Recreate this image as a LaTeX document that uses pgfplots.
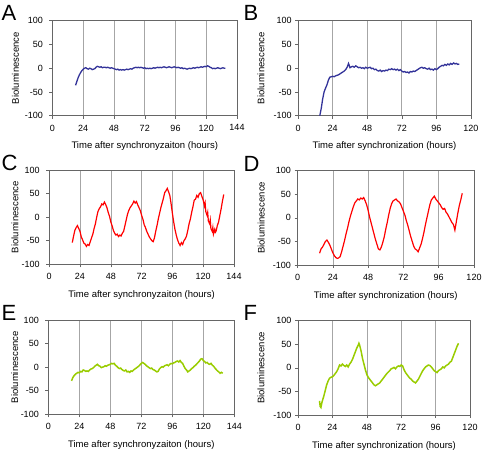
\documentclass[border=0pt]{standalone}
\usepackage{fontspec}
\setmainfont{Liberation Sans}
\usepackage{pgfplots}
\pgfplotsset{compat=1.18}
\definecolor{cblue}{HTML}{333399}
\definecolor{cred}{HTML}{FF0000}
\definecolor{cgreen}{HTML}{99CC00}
\pgfplotsset{
  panel/.style={
    scale only axis, anchor=north west,
    ymin=-100, ymax=100, ytick={-100,-50,0,50,100},
    tick align=outside, major tick length=3pt, tick pos=left,
    tick style={black!60, line width=0.5pt},
    xmajorgrids, grid style={black!35, line width=0.6pt},
    axis line style={black!60, line width=0.6pt},
    ticklabel style={font=\fontsize{9}{10}\selectfont},
    xticklabel style={yshift=-2.5pt},
    /pgf/number format/assume math mode=true,
    label style={font=\fontsize{9.5}{11}\selectfont},
    ylabel={Bioluminescence},
    xlabel style={at={(axis description cs:0.5,-0.35)}, anchor=base},
  },
  p144/.style={xmin=0, xmax=144, xtick={0,24,...,144}, xlabel={Time after synchronyzaiton (hours)}, yticklabel style={xshift=-3pt}},
  p120/.style={xmin=0, xmax=120, xtick={0,24,...,120}, xlabel={Time after synchronization (hours)}},
}
\begin{document}
\begin{tikzpicture}
\useasboundingbox (0pt,0pt) rectangle (484pt,-455pt);
\tikzset{lett/.style={anchor=base west, inner sep=0pt, font=\fontsize{22}{22}\selectfont}}
\node[lett] at (1.5pt,-20pt) {A};
\node[lett] at (243.5pt,-20pt) {B};
\node[lett] at (1.5pt,-170pt) {C};
\node[lett] at (243.5pt,-171pt) {D};
\node[lett] at (1.5pt,-320pt) {E};
\node[lett] at (243.5pt,-320pt) {F};

% A
\begin{axis}[panel, p144, at={(52.5pt,-20.7pt)}, width=184.5pt, height=95pt,
  ylabel style={at={(axis description cs:-0.20,0.5)}, anchor=center}]
\addplot[cblue, line width=1.3pt] coordinates {
(18,-36)(19,-28)(20,-20)(21,-14)(22,-9)(23,-5)(24,-2)(25,0)(26,1)(27,-1)(28,-2)(29,0)(30,-1)(31,-3)(32,-2)(33,-1)(34,2)(35,4)(36,3)(37,2)(38,3)(39,1)(40,2)(41,2)(42,1)(43,2)(44,1)(45,0)(46,1)(47,0)(48,-1)(49,-2)(50,-3)(51,-2)(52,-4)(53,-3)(54,-4)(55,-3)(56,-4)(57,-3)(58,-2)(59,-3)(60,-2)(61,-1)(62,-2)(63,0)(64,1)(65,2)(66,1)(67,2)(68,1)(69,2)(70,1)(71,0)(72,1)(73,-1)(74,0)(75,-1)(76,0)(77,-1)(78,0)(79,1)(80,0)(81,1)(82,2)(83,1)(84,2)(85,1)(86,2)(87,3)(88,2)(89,1)(90,2)(91,3)(92,2)(93,1)(94,2)(95,3)(96,2)(97,1)(98,2)(99,1)(100,0)(101,1)(102,-1)(103,0)(104,-1)(105,-2)(106,-1)(107,0)(108,-1)(109,0)(110,1)(111,0)(112,1)(113,2)(114,1)(115,2)(116,3)(117,2)(118,3)(119,4)(120,3)(121,5)(122,4)(123,2)(124,1)(125,-1)(126,0)(127,-1)(128,0)(129,1)(130,0)(131,-1)(132,0)(133,1)(134,0)(135,0)
};
\end{axis}

% B
\begin{axis}[panel, p120, at={(298.2pt,-20.7pt)}, width=172.6pt, height=95pt,
  ylabel style={at={(axis description cs:-0.215,0.5)}, anchor=center}]
\addplot[cblue, line width=1.3pt] coordinates {
(15,-100)(16,-85)(17,-65)(18,-50)(19,-42)(20,-35)(21,-25)(22,-19)(23,-18)(24,-17)(25,-18)(26,-16)(27,-15)(28,-14)(29,-12)(30,-10)(31,-8)(32,-6)(33,-3)(34,2)(35,10)(36,1)(37,3)(38,4)(39,2)(40,5)(41,3)(42,1)(43,2)(44,0)(45,1)(46,-1)(47,2)(48,0)(49,1)(50,2)(51,-1)(52,0)(53,-3)(54,-2)(55,-5)(56,-6)(57,-4)(58,-7)(59,-5)(60,-6)(61,-4)(62,-5)(63,-2)(64,-3)(65,-1)(66,-3)(67,-2)(68,-4)(69,-2)(70,-5)(71,-3)(72,-6)(73,-8)(74,-7)(75,-9)(76,-8)(77,-10)(78,-7)(79,-8)(80,-6)(81,-7)(82,-5)(83,-3)(84,-1)(85,1)(86,2)(87,0)(88,1)(89,-1)(90,-2)(91,0)(92,-3)(93,-2)(94,-4)(95,-1)(96,-3)(97,-1)(98,2)(99,4)(100,6)(101,5)(102,8)(103,6)(104,9)(105,7)(106,10)(107,8)(108,11)(109,9)(110,10)(111,8)(112,9)
};
\end{axis}

% C
\begin{axis}[panel, p144, at={(49.2pt,-170pt)}, width=184.8pt, height=94.3pt,
  ylabel style={at={(axis description cs:-0.185,0.5)}, anchor=center}]
\addplot[cred, line width=1.2pt] coordinates {
(18,-54)(19,-40)(20,-28)(21,-22)(22,-18)(23,-24)(24,-30)(25,-42)(26,-48)(27,-55)(28,-57)(29,-62)(30,-58)(31,-60)(32,-52)(33,-44)(34,-36)(35,-24)(36,-14)(37,0)(38,12)(39,18)(40,22)(41,28)(42,26)(43,32)(44,27)(45,20)(46,10)(47,2)(48,-10)(49,-18)(50,-28)(51,-34)(52,-38)(53,-36)(54,-41)(55,-38)(56,-40)(57,-34)(58,-30)(59,-18)(60,-6)(61,6)(62,14)(63,20)(64,24)(65,28)(66,34)(67,30)(68,33)(69,26)(70,20)(71,14)(72,4)(73,-4)(74,-16)(75,-22)(76,-30)(77,-36)(78,-42)(79,-46)(80,-50)(81,-52)(82,-44)(83,-30)(84,-18)(85,-4)(86,8)(87,20)(88,30)(89,40)(90,52)(91,56)(92,61)(93,54)(94,46)(95,28)(96,8)(97,-10)(98,-26)(99,-38)(100,-48)(101,-55)(102,-60)(103,-54)(104,-58)(105,-50)(106,-46)(107,-40)(108,-28)(109,-14)(110,-4)(111,10)(112,22)(113,36)(114,38)(115,46)(116,42)(117,50)(118,52)(119,44)(120,36)(121,24)(121.5,30)(122,12)(123,4)(123.5,10)(124,-8)(125,-14)(125.5,-6)(126,-24)(127,-30)(127.5,-22)(128,-36)(129,-26)(129.5,-32)(130,-30)(131,-18)(132,-10)(133,4)(134,18)(135,34)(136,48)
};
\end{axis}

% D
\begin{axis}[panel, p120, at={(297.5pt,-170.7pt)}, width=176.5pt, height=94.3pt,
  ylabel style={at={(axis description cs:-0.205,0.5)}, anchor=center}]
\addplot[cred, line width=1.2pt] coordinates {
(15,-75)(16,-66)(17,-62)(18,-56)(19,-50)(20,-47)(21,-52)(22,-58)(23,-66)(24,-74)(25,-80)(26,-84)(27,-86)(28,-85)(29,-82)(30,-72)(31,-60)(32,-48)(33,-34)(34,-22)(35,-8)(36,4)(37,14)(38,24)(39,32)(40,36)(41,40)(42,38)(43,42)(44,40)(45,43)(46,36)(47,28)(48,16)(49,2)(50,-10)(51,-22)(52,-34)(53,-46)(54,-56)(55,-66)(56,-68)(57,-62)(58,-52)(59,-40)(60,-24)(61,-10)(62,6)(63,20)(64,30)(65,36)(66,38)(67,40)(68,36)(69,34)(70,30)(71,22)(72,14)(73,6)(74,-6)(75,-16)(76,-28)(77,-40)(78,-50)(79,-60)(80,-66)(81,-68)(82,-72)(83,-64)(84,-56)(85,-44)(86,-30)(87,-14)(88,0)(89,14)(90,28)(91,38)(92,42)(93,46)(94,40)(95,36)(96,32)(97,28)(98,22)(99,18)(100,20)(101,12)(102,8)(103,2)(104,-4)(105,-10)(106,-14)(107,-26)(108,-8)(109,10)(110,26)(111,38)(112,52)
};
\end{axis}

% E
\begin{axis}[panel, p144, at={(48.3pt,-320pt)}, width=186pt, height=94.3pt,
  ylabel style={at={(axis description cs:-0.18,0.5)}, anchor=center}]
\addplot[cgreen, line width=1.5pt] coordinates {
(18,-29)(19,-22)(20,-18)(21,-15)(22,-13)(23,-11)(24,-12)(25,-9)(26,-10)(27,-6)(28,-7)(29,-9)(30,-8)(31,-9)(32,-6)(33,-4)(34,-3)(35,-1)(36,2)(37,4)(38,6)(39,3)(40,2)(41,-1)(42,0)(43,1)(44,3)(45,2)(46,4)(47,5)(48,6)(49,8)(50,7)(51,8)(52,4)(53,2)(54,-1)(55,-3)(56,-2)(57,-5)(58,-7)(59,-8)(60,-6)(61,-10)(62,-9)(63,-11)(64,-8)(65,-9)(66,-6)(67,-4)(68,-2)(69,0)(70,2)(71,5)(72,8)(73,10)(74,8)(75,6)(76,3)(77,1)(78,-1)(79,-3)(80,-2)(81,-5)(82,-6)(83,-8)(84,-10)(85,-9)(86,-4)(87,-1)(88,1)(89,0)(90,3)(91,4)(92,5)(93,3)(94,6)(95,8)(96,7)(97,9)(98,10)(99,12)(100,13)(101,11)(102,14)(103,10)(104,8)(105,2)(106,-3)(107,-6)(108,-10)(109,-8)(110,-6)(111,-3)(112,-1)(113,2)(114,4)(115,7)(116,10)(117,13)(118,17)(119,18)(120,14)(121,12)(122,9)(123,10)(124,7)(125,6)(126,8)(127,4)(128,2)(129,-2)(130,-5)(131,-8)(132,-10)(133,-13)(134,-11)(135,-13)
};
\end{axis}

% F
\begin{axis}[panel, p120, at={(298pt,-320.7pt)}, width=172pt, height=94.3pt,
  ylabel style={at={(axis description cs:-0.215,0.5)}, anchor=center}]
\addplot[cgreen, line width=1.5pt] coordinates {
(15,-70)(15.5,-82)(16,-84)(16.5,-76)(17,-70)(18,-60)(19,-48)(20,-36)(21,-28)(22,-22)(23,-20)(24,-19)(25,-16)(26,-12)(27,-8)(28,-2)(29,6)(30,4)(31,8)(32,5)(33,3)(34,6)(35,2)(36,8)(37,12)(38,18)(39,26)(40,34)(41,42)(42,48)(42.5,52)(43,48)(44,36)(45,20)(46,8)(47,-4)(48,-14)(49,-20)(50,-24)(51,-28)(52,-32)(53,-36)(54,-38)(55,-36)(56,-34)(57,-32)(58,-28)(59,-24)(60,-20)(61,-16)(62,-12)(63,-9)(64,-6)(65,-2)(66,-1)(67,1)(68,-2)(69,2)(70,4)(71,3)(72,6)(73,4)(74,-4)(75,-10)(76,-14)(77,-18)(78,-22)(79,-24)(80,-28)(81,-30)(82,-32)(83,-28)(84,-24)(85,-18)(86,-12)(87,-6)(88,-2)(89,2)(90,4)(91,6)(92,5)(93,2)(94,-2)(95,-6)(96,-8)(97,-10)(98,-6)(99,-4)(100,-2)(101,2)(102,0)(103,4)(104,6)(105,8)(106,12)(107,14)(108,22)(109,30)(110,38)(111,46)(112,52)
};
\end{axis}
\end{tikzpicture}
\end{document}
